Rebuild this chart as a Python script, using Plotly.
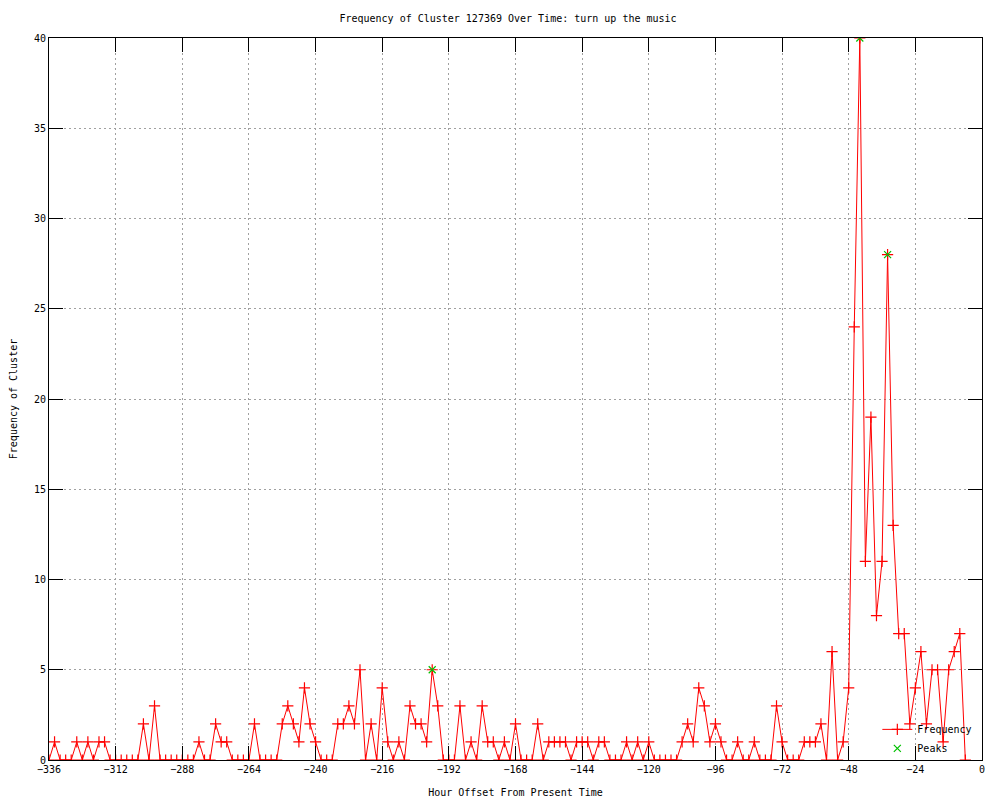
import plotly.graph_objects as go

# Hour offsets (every 2 hours) and cluster frequencies
hours = list(range(-336, -4, 2))
frequency = [
    0, 1, 0, 0, 0, 1, 0, 1, 0, 1, 1, 0,          # -336 .. -314
    0, 0, 0, 0, 0, 2, 0, 3, 0, 0, 0, 0,          # -312 .. -290
    0, 0, 0, 1, 0, 0, 2, 1, 1, 0, 0, 0,          # -288 .. -266
    0, 2, 0, 0, 0, 0, 2, 3, 2, 1, 4, 2,          # -264 .. -242
    1, 0, 0, 0, 2, 2, 3, 2, 5, 0, 2, 0,          # -240 .. -218
    4, 1, 0, 1, 0, 3, 2, 2, 1, 5, 3, 0,          # -216 .. -194
    0, 0, 3, 0, 1, 0, 3, 1, 1, 0, 1, 0,          # -192 .. -170
    2, 0, 0, 0, 2, 0, 1, 1, 1, 1, 0, 1,          # -168 .. -146
    1, 1, 0, 1, 1, 0, 0, 0, 1, 0, 1, 0,          # -144 .. -122
    1, 0, 0, 0, 0, 0, 1, 2, 1, 4, 3, 1,          # -120 .. -98
    2, 1, 0, 0, 1, 0, 0, 1, 0, 0, 0, 3,          # -96 .. -74
    1, 0, 0, 0, 1, 1, 1, 2, 0, 6, 0, 1,          # -72 .. -50
    4, 24, 40, 11, 19, 8, 11, 28, 13, 7, 7, 2,   # -48 .. -26
    4, 6, 2, 5, 5, 1, 5, 6, 7, 0,                # -24 .. -6
]

peak_hours = [-198, -44, -34]
peak_values = [5, 40, 28]

x_ticks = list(range(-336, 1, 24))
y_ticks = list(range(0, 41, 5))

title_text = "Frequency of Cluster 127369 Over Time: turn up the music"
x_title = "Hour Offset From Present Time"
y_title = "Frequency of Cluster"

FONT = "DejaVu Sans Mono"

fig = go.Figure()
fig.add_trace(go.Scatter(
    x=hours, y=frequency, mode="lines+markers", name="Frequency",
    line=dict(color="#ff0000", width=1),
    marker=dict(symbol="cross-thin", size=8, line=dict(color="#ff0000", width=1.2)),
))
fig.add_trace(go.Scatter(
    x=peak_hours, y=peak_values, mode="markers", name="Peaks",
    marker=dict(symbol="x-thin", size=7, line=dict(color="#00c000", width=1.2)),
))

axis_common = dict(
    showline=True, linecolor="black", linewidth=1, mirror="ticks",
    ticks="inside", ticklen=14, tickcolor="black", tickwidth=1,
    showgrid=True, gridcolor="#a0a0a0", griddash="2px,3px", gridwidth=1,
    zeroline=False, automargin=False,
    tickfont=dict(family=FONT, size=10, color="black"),
)

# The page body adds an 8px offset; margins compensate so the plot box sits
# where it does in the reference.
fig.update_layout(
    width=1000, height=800,
    paper_bgcolor="white", plot_bgcolor="white",
    margin=dict(l=41, r=26, t=30, b=48),
    title=dict(text=title_text, x=0.5, xanchor="center", y=0.9875, yanchor="middle",
               font=dict(family=FONT, size=10, color="black"), automargin=False),
    xaxis=dict(range=[-336, 0], tickvals=x_ticks,
               title=dict(text=x_title, font=dict(family=FONT, size=10, color="black"), standoff=14),
               **axis_common),
    yaxis=dict(range=[0, 40], tickvals=y_ticks,
               title=dict(text=y_title, font=dict(family=FONT, size=10, color="black"), standoff=14),
               **axis_common),
    legend=dict(x=0.995, xanchor="right", y=-0.004, yanchor="bottom",
                bgcolor="rgba(0,0,0,0)", font=dict(family=FONT, size=10, color="black"),
                tracegroupgap=0),
    showlegend=True,
)

fig.write_html("out.html")
